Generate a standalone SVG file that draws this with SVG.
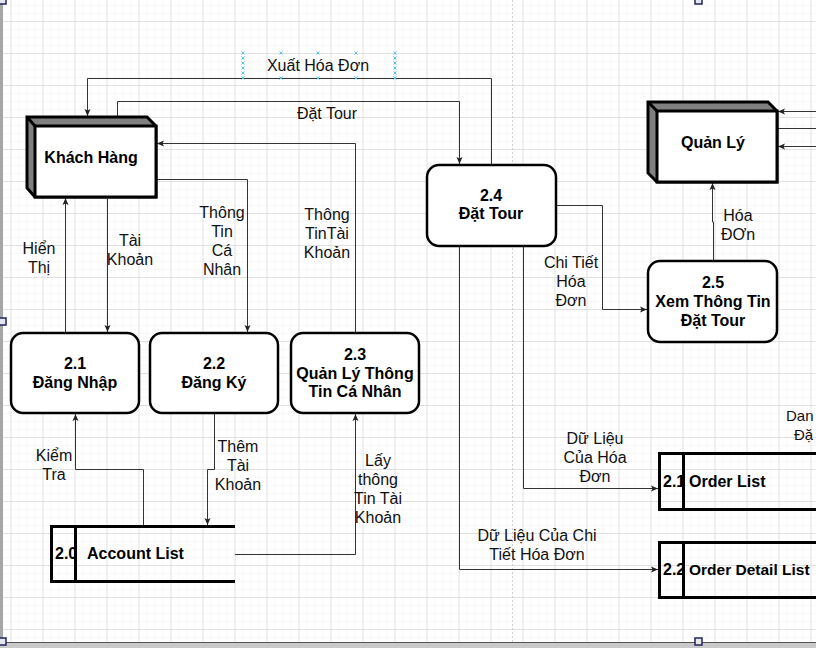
<svg xmlns="http://www.w3.org/2000/svg" width="816" height="648" viewBox="0 0 816 648">
<style>
.lbl{font-family:"Liberation Sans",Arial,sans-serif;font-size:16px;fill:#111;text-anchor:middle}
.bt{font-family:"Liberation Sans",Arial,sans-serif;font-size:16px;font-weight:bold;fill:#000;text-anchor:middle}
.bs{font-family:"Liberation Sans",Arial,sans-serif;font-size:16px;font-weight:bold;fill:#000}
.proc{fill:#fff;stroke:#000;stroke-width:2.5}
.side{fill:#808080;stroke:#000;stroke-width:3;stroke-linejoin:miter}
.face{fill:#fff;stroke:#000;stroke-width:3}
.store{fill:none;stroke:#000;stroke-width:3}
.conn{fill:none;stroke:#333;stroke-width:1}
.arr{marker-end:url(#ah)}
.hd{fill:#e6e6ee;stroke:#23235f;stroke-width:1.5}
.sel{stroke:#56c2ef;stroke-width:1}
</style>
<defs>
<pattern id="grid" patternUnits="userSpaceOnUse" width="32" height="32" x="10.5" y="21">
<path d="M8.5,0V32M16.5,0V32M24.5,0V32M0,8.5H32M0,16.5H32M0,24.5H32" stroke="#f8f8f8" stroke-width="1"/>
<path d="M0.5,0V32M0,0.5H32" stroke="#e0e0e0" stroke-width="1"/>
</pattern>
<marker id="ah" markerUnits="userSpaceOnUse" markerWidth="8" markerHeight="8" refX="7" refY="3.5" orient="auto">
<path d="M0,0.5L7,3.5L0,6.5L1.5,3.5Z" fill="#222"/>
</marker>
</defs>
<rect x="0" y="0" width="816" height="648" fill="#fff"/>
<rect x="0" y="0" width="816" height="642" fill="url(#grid)"/>
<line x1="512.5" y1="0" x2="512.5" y2="642" stroke="#cfcfcf" stroke-width="1" stroke-dasharray="2,2"/>
<rect x="0" y="0" width="3" height="642" fill="#a6a6a6"/>
<rect x="0" y="642" width="816" height="6" fill="#c9c9c9"/>
<line x1="0" y1="642.5" x2="816" y2="642.5" stroke="#555" stroke-width="1"/>
<g id="page-handles">
<rect class="hd" x="-1" y="-3" width="7" height="7"/>
<rect class="hd" x="-1" y="318" width="7" height="7"/>
<rect class="hd" x="-1" y="638" width="7" height="7"/>
<rect class="hd" x="695" y="-3" width="7" height="7"/>
<rect class="hd" x="695" y="638" width="7" height="7"/>
</g>

<g id="connectors">
<path class="conn arr" d="M491.5,165V78.5H87.5V116"/>
<path class="conn arr" d="M117.5,117V101.5H459.5V164"/>
<path class="conn arr" d="M355.5,333V143.5H157"/>
<path class="conn arr" d="M156,179.5H247.5V332"/>
<path class="conn arr" d="M65.5,333V198"/>
<path class="conn arr" d="M107.5,199V332"/>
<path class="conn arr" d="M143.5,526V469.5H75.5V414"/>
<path class="conn arr" d="M214.5,413V469.5H207.5V525"/>
<path class="conn arr" d="M235,554.5H355.5V414"/>
<path class="conn arr" d="M556,205.5H602.5V309.5H647"/>
<path class="conn arr" d="M713.5,261V222H712.5V183"/>
<path class="conn arr" d="M523.5,246V488.5H658"/>
<path class="conn arr" d="M459.5,246V569.5H658"/>
<path class="conn arr" d="M816,111.5H778"/>
<path class="conn" d="M816,128.5H778"/>
<path class="conn arr" d="M816,146.5H778" stroke="#555" stroke-width="1.5"/>
<g id="sel-handles">
<path class="sel" d="M241.5,51.5l3,3m0,-3l-3,3M279.5,51.5l3,3m0,-3l-3,3M316.5,51.5l3,3m0,-3l-3,3M354.5,51.5l3,3m0,-3l-3,3M393.5,51.5l3,3m0,-3l-3,3"/>
<path class="sel" d="M241.5,76.5l3,3m0,-3l-3,3M279.5,76.5l3,3m0,-3l-3,3M316.5,76.5l3,3m0,-3l-3,3M354.5,76.5l3,3m0,-3l-3,3M393.5,76.5l3,3m0,-3l-3,3"/>
<path class="sel" d="M241.5,56.5l3,3m0,-3l-3,3M241.5,61.5l3,3m0,-3l-3,3M241.5,66.5l3,3m0,-3l-3,3M241.5,71.5l3,3m0,-3l-3,3"/>
<path class="sel" d="M393.5,56.5l3,3m0,-3l-3,3M393.5,61.5l3,3m0,-3l-3,3M393.5,66.5l3,3m0,-3l-3,3M393.5,71.5l3,3m0,-3l-3,3"/>
</g>
<text class="lbl" x="318" y="71">Xuất Hóa Đơn</text>
<text class="lbl" x="327" y="119">Đặt Tour</text>
<text class="lbl" x="327" y="220">Thông</text>
<text class="lbl" x="327" y="239">TinTài</text>
<text class="lbl" x="327" y="258">Khoản</text>
<text class="lbl" x="222" y="218">Thông</text>
<text class="lbl" x="222" y="237">Tin</text>
<text class="lbl" x="222" y="256">Cá</text>
<text class="lbl" x="222" y="275">Nhân</text>
<text class="lbl" x="39" y="254">Hiển</text>
<text class="lbl" x="39" y="273">Thị</text>
<text class="lbl" x="130" y="246">Tài</text>
<text class="lbl" x="130" y="265">Khoản</text>
<text class="lbl" x="54" y="461">Kiểm</text>
<text class="lbl" x="54" y="480">Tra</text>
<text class="lbl" x="238" y="452">Thêm</text>
<text class="lbl" x="238" y="471">Tài</text>
<text class="lbl" x="238" y="490">Khoản</text>
<text class="lbl" x="378" y="466">Lấy</text>
<text class="lbl" x="378" y="485">thông</text>
<text class="lbl" x="378" y="504">Tin Tài</text>
<text class="lbl" x="378" y="523">Khoản</text>
<text class="lbl" x="571" y="268">Chi Tiết</text>
<text class="lbl" x="571" y="287">Hóa</text>
<text class="lbl" x="571" y="306">Đơn</text>
<text class="lbl" x="738" y="221">Hóa</text>
<text class="lbl" x="738" y="240">ĐƠn</text>
<text class="lbl" x="595" y="444">Dữ Liệu</text>
<text class="lbl" x="595" y="463">Của Hóa</text>
<text class="lbl" x="595" y="482">Đơn</text>
<text class="lbl" x="537" y="541">Dữ Liệu Của Chi</text>
<text class="lbl" x="537" y="560">Tiết Hóa Đơn</text>
<text class="lbl" x="786" y="421" style="text-anchor:start;font-size:15px">Dan</text>
<text class="lbl" x="794" y="440" style="text-anchor:start;font-size:15px">Đặ</text>
</g>

<g id="khach-hang">
<path class="side" d="M27,117H147L156,126V197H35L27,188Z"/>
<path class="side" d="M27,117L35,126"/>
<rect class="face" x="35" y="126" width="121" height="71"/>
<text class="bt" x="91" y="163">Khách Hàng</text>
</g>
<g id="quan-ly">
<path class="side" d="M648,102H768L777,111V182H657L648,173Z"/>
<path class="side" d="M648,102L657,111"/>
<rect class="face" x="657" y="111" width="120" height="71"/>
<text class="bt" x="713" y="148">Quản Lý</text>
</g>
<g id="p21">
<rect class="proc" x="11" y="333" width="128" height="80" rx="12"/>
<text class="bt" x="75" y="369">2.1</text>
<text class="bt" x="75" y="388">Đăng Nhập</text>
</g>
<g id="p22">
<rect class="proc" x="150" y="333" width="128" height="80" rx="12"/>
<text class="bt" x="214" y="369">2.2</text>
<text class="bt" x="214" y="388">Đăng Ký</text>
</g>
<g id="p23">
<rect class="proc" x="291" y="333" width="128" height="80" rx="12"/>
<text class="bt" x="355" y="360">2.3</text>
<text class="bt" x="355" y="379">Quản Lý Thông</text>
<text class="bt" x="355" y="397">Tin Cá Nhân</text>
</g>
<g id="p24">
<rect class="proc" x="427" y="165" width="129" height="81" rx="12"/>
<text class="bt" x="491" y="201">2.4</text>
<text class="bt" x="491" y="219">Đặt Tour</text>
</g>
<g id="p25">
<rect class="proc" x="648" y="261" width="129" height="81" rx="12"/>
<text class="bt" x="713" y="288">2.5</text>
<text class="bt" x="713" y="307">Xem Thông Tin</text>
<text class="bt" x="713" y="326">Đặt Tour</text>
</g>
<g id="s20">
<text class="bs" x="55" y="559">2.0</text>
<text class="bs" x="87" y="559">Account List</text>
<path class="store" d="M235,526.5H51.5V581.5H235M75.5,526.5V581.5"/>
</g>
<g id="s21">
<text class="bs" x="663" y="487">2.1</text>
<text class="bs" x="689" y="487">Order List</text>
<path class="store" d="M816,453.5H659.5V509.5H816M683.5,453.5V509.5"/>
</g>
<g id="s22">
<text class="bs" x="663" y="575">2.2</text>
<text class="bs" x="689" y="575" style="font-size:15.5px">Order Detail List</text>
<path class="store" d="M816,542.5H659.5V597.5H816M683.5,542.5V597.5"/>
</g>
</svg>
